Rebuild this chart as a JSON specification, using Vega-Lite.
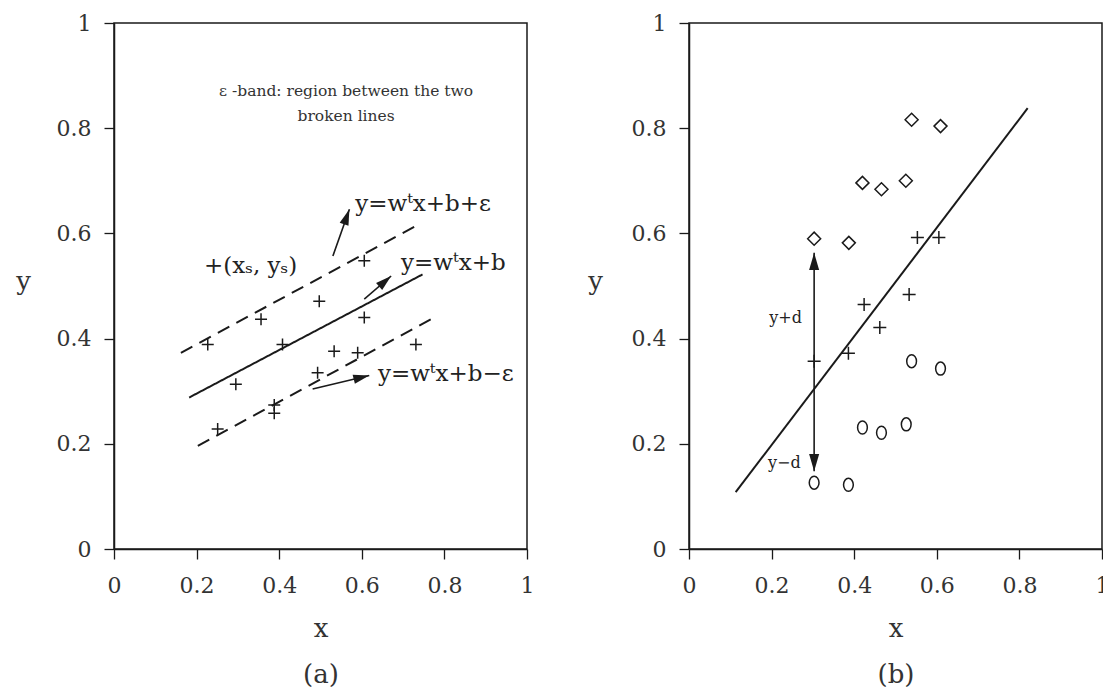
{
  "$schema": "https://vega.github.io/schema/vega-lite/v6.json",
  "background": "white",
  "padding": {"left": 14, "top": 11, "right": 0, "bottom": 0},
  "spacing": 51,
  "config": {
    "view": {"stroke": "#1a1a1a", "strokeWidth": 1.5},
    "font": "DejaVu Serif",
    "axis": {
      "grid": false, "domainColor": "#1a1a1a", "domainWidth": 1.5,
      "tickColor": "#1a1a1a", "tickWidth": 1.3, "tickSize": 10,
      "labelFont": "DejaVu Serif", "labelFontSize": 22, "labelColor": "#333",
      "titleFont": "DejaVu Serif", "titleFontSize": 26, "titleFontWeight": "normal", "titleColor": "#333",
      "labelFlush": false, "labelOverlap": false
    },
    "axisX": {"labelBaseline": "alphabetic", "labelPadding": 33, "titleBaseline": "alphabetic", "titleY": 87, "titleLineHeight": 46},
    "axisY": {"labelPadding": 13, "titleAngle": 0, "titleAlign": "center", "titleBaseline": "middle", "titleY": 258}
  },
  "hconcat": [
    {
      "width": 413, "height": 526,
      "layer": [
        {
          "data": {"values": [
            {"x": 0.182, "y": 0.288, "x2": 0.747, "y2": 0.522, "kind": "fit"},
            {"x": 0.162, "y": 0.373, "x2": 0.731, "y2": 0.614, "kind": "band"},
            {"x": 0.203, "y": 0.196, "x2": 0.768, "y2": 0.437, "kind": "band"}
          ]},
          "mark": {"type": "rule", "strokeWidth": 2, "color": "#1a1a1a"},
          "encoding": {
            "x": {"field": "x", "type": "quantitative", "scale": {"domain": [0, 1], "nice": false}, "axis": {"title": ["x", "(a)"], "values": [0, 0.2, 0.4, 0.6, 0.8, 1], "format": "~g"}},
            "y": {"field": "y", "type": "quantitative", "scale": {"domain": [0, 1], "nice": false}, "axis": {"title": "y", "titleX": -91, "values": [0, 0.2, 0.4, 0.6, 0.8, 1], "format": "~g"}},
            "x2": {"field": "x2"}, "y2": {"field": "y2"},
            "strokeDash": {"field": "kind", "type": "nominal", "scale": {"domain": ["fit", "band"], "range": [[1, 0], [13, 8]]}, "legend": null}
          }
        },
        {
          "data": {"values": [
            {"x": 0.530, "y": 0.557, "x2": 0.570, "y2": 0.646, "heading": 19.6},
            {"x": 0.606, "y": 0.475, "x2": 0.671, "y2": 0.519, "heading": 48.9},
            {"x": 0.481, "y": 0.304, "x2": 0.618, "y2": 0.330, "heading": 76}
          ]},
          "layer": [
            {"mark": {"type": "rule", "strokeWidth": 1.6, "color": "#1a1a1a"},
             "encoding": {"x": {"field": "x", "type": "quantitative"}, "y": {"field": "y", "type": "quantitative"}, "x2": {"field": "x2"}, "y2": {"field": "y2"}}},
            {"mark": {"type": "point", "shape": "M0,0L0.38,1.3L-0.38,1.3Z", "filled": true, "color": "#1a1a1a", "opacity": 1, "size": 600},
             "encoding": {"x": {"field": "x2", "type": "quantitative"}, "y": {"field": "y2", "type": "quantitative"}, "angle": {"field": "heading", "type": "quantitative", "scale": null}}}
          ]
        },
        {
          "data": {"values": [
            {"x": 0.227, "y": 0.389}, {"x": 0.295, "y": 0.313}, {"x": 0.388, "y": 0.274}, {"x": 0.388, "y": 0.258},
            {"x": 0.251, "y": 0.228}, {"x": 0.356, "y": 0.437}, {"x": 0.408, "y": 0.389}, {"x": 0.497, "y": 0.471},
            {"x": 0.533, "y": 0.376}, {"x": 0.590, "y": 0.373}, {"x": 0.493, "y": 0.335}, {"x": 0.606, "y": 0.44},
            {"x": 0.606, "y": 0.548}, {"x": 0.731, "y": 0.389}
          ]},
          "mark": {"type": "point", "shape": "M-1,0L1,0M0,-1L0,1", "filled": false, "color": "#1a1a1a", "strokeWidth": 1.5, "opacity": 1, "size": 144},
          "encoding": {"x": {"field": "x", "type": "quantitative"}, "y": {"field": "y", "type": "quantitative"}}
        },
        {
          "data": {"values": [
            {"x": 0.584, "y": 0.643, "label": "y=wᵗx+b+ε"},
            {"x": 0.695, "y": 0.530, "label": "y=wᵗx+b"},
            {"x": 0.639, "y": 0.319, "label": "y=wᵗx+b−ε"},
            {"x": 0.218, "y": 0.525, "label": "+(xₛ, yₛ)"}
          ]},
          "mark": {"type": "text", "align": "left", "baseline": "alphabetic", "font": "DejaVu Serif", "fontSize": 23, "color": "#222"},
          "encoding": {"x": {"field": "x", "type": "quantitative"}, "y": {"field": "y", "type": "quantitative"}, "text": {"field": "label"}}
        },
        {
          "data": {"values": [
            {"x": 0.562, "y": 0.871, "label": "ε -band: region between the two"},
            {"x": 0.562, "y": 0.823, "label": "broken lines"}
          ]},
          "mark": {"type": "text", "align": "center", "baseline": "middle", "font": "DejaVu Serif", "fontSize": 15.5, "color": "#333"},
          "encoding": {"x": {"field": "x", "type": "quantitative"}, "y": {"field": "y", "type": "quantitative"}, "text": {"field": "label"}}
        }
      ]
    },
    {
      "width": 413, "height": 526,
      "layer": [
        {
          "data": {"values": [{"x": 0.113, "y": 0.108, "x2": 0.82, "y2": 0.838}]},
          "mark": {"type": "rule", "strokeWidth": 2, "color": "#1a1a1a"},
          "encoding": {
            "x": {"field": "x", "type": "quantitative", "scale": {"domain": [0, 1], "nice": false}, "axis": {"title": ["x", "(b)"], "values": [0, 0.2, 0.4, 0.6, 0.8, 1], "format": "~g"}},
            "y": {"field": "y", "type": "quantitative", "scale": {"domain": [0, 1], "nice": false}, "axis": {"title": "y", "titleX": -94, "values": [0, 0.2, 0.4, 0.6, 0.8, 1], "format": "~g"}},
            "x2": {"field": "x2"}, "y2": {"field": "y2"}
          }
        },
        {
          "data": {"values": [
            {"x": 0.303, "y": 0.357, "x2": 0.303, "y2": 0.563, "heading": 0},
            {"x": 0.303, "y": 0.357, "x2": 0.303, "y2": 0.148, "heading": 180}
          ]},
          "layer": [
            {"mark": {"type": "rule", "strokeWidth": 1.6, "color": "#1a1a1a"},
             "encoding": {"x": {"field": "x", "type": "quantitative"}, "y": {"field": "y", "type": "quantitative"}, "x2": {"field": "x2"}, "y2": {"field": "y2"}}},
            {"mark": {"type": "point", "shape": "M0,0L0.38,1.3L-0.38,1.3Z", "filled": true, "color": "#1a1a1a", "opacity": 1, "size": 700},
             "encoding": {"x": {"field": "x2", "type": "quantitative"}, "y": {"field": "y2", "type": "quantitative"}, "angle": {"field": "heading", "type": "quantitative", "scale": null}}}
          ]
        },
        {
          "data": {"values": [
            {"x": 0.539, "y": 0.816, "cls": "diamond"}, {"x": 0.609, "y": 0.804, "cls": "diamond"},
            {"x": 0.420, "y": 0.696, "cls": "diamond"}, {"x": 0.466, "y": 0.684, "cls": "diamond"},
            {"x": 0.525, "y": 0.700, "cls": "diamond"}, {"x": 0.303, "y": 0.590, "cls": "diamond"},
            {"x": 0.387, "y": 0.582, "cls": "diamond"},
            {"x": 0.553, "y": 0.592, "cls": "plus"}, {"x": 0.605, "y": 0.592, "cls": "plus"},
            {"x": 0.424, "y": 0.465, "cls": "plus"}, {"x": 0.533, "y": 0.484, "cls": "plus"},
            {"x": 0.462, "y": 0.421, "cls": "plus"}, {"x": 0.386, "y": 0.372, "cls": "plus"},
            {"x": 0.303, "y": 0.357, "cls": "plus"},
            {"x": 0.539, "y": 0.357, "cls": "circle"}, {"x": 0.609, "y": 0.343, "cls": "circle"},
            {"x": 0.420, "y": 0.231, "cls": "circle"}, {"x": 0.466, "y": 0.221, "cls": "circle"},
            {"x": 0.526, "y": 0.237, "cls": "circle"}, {"x": 0.303, "y": 0.126, "cls": "circle"},
            {"x": 0.386, "y": 0.122, "cls": "circle"}
          ]},
          "mark": {"type": "point", "filled": false, "color": "#1a1a1a", "strokeWidth": 1.5, "opacity": 1},
          "encoding": {
            "x": {"field": "x", "type": "quantitative"}, "y": {"field": "y", "type": "quantitative"},
            "shape": {"field": "cls", "type": "nominal", "scale": {"domain": ["diamond", "plus", "circle"], "range": ["diamond", "M-1,0L1,0M0,-1L0,1", "M0,-1A0.75,1 0 1,1 0,1A0.75,1 0 1,1 0,-1Z"]}, "legend": null},
            "size": {"field": "cls", "type": "nominal", "scale": {"domain": ["diamond", "plus", "circle"], "range": [169, 169, 140]}, "legend": null}
          }
        },
        {
          "data": {"values": [
            {"x": 0.234, "y": 0.44, "label": "y+d"},
            {"x": 0.231, "y": 0.164, "label": "y−d"}
          ]},
          "mark": {"type": "text", "align": "center", "baseline": "middle", "font": "DejaVu Serif", "fontSize": 16, "color": "#222"},
          "encoding": {"x": {"field": "x", "type": "quantitative"}, "y": {"field": "y", "type": "quantitative"}, "text": {"field": "label"}}
        }
      ]
    }
  ]
}
